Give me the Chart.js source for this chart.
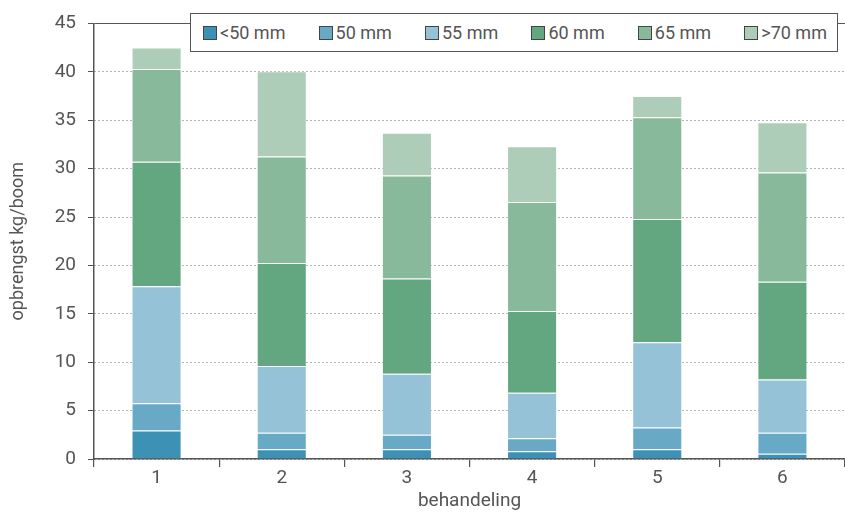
<!DOCTYPE html>
<html>
<head>
<meta charset="utf-8">
<script src="https://cdn.jsdelivr.net/npm/chart.js@4.4.0/dist/chart.umd.min.js"></script>
<style>
  body { margin: 0; background: #fff; }
  #wrap { position: relative; width: 845px; height: 513px; }
  #legend {
    position: absolute; left: 190px; top: 13px; width: 648px; height: 39px;
    box-sizing: border-box; border: 1.5px solid #555; background: #fff;
    display: flex; align-items: center; justify-content: space-between;
    font: 18px Roboto, sans-serif; color: #555; padding: 0 10px 0 12px;
  }
  .item { display: flex; align-items: center; }
  .sw { width: 14px; height: 14px; box-sizing: border-box; border: 1px solid #444; margin-right: 3px; }
</style>
</head>
<body>
<div id="wrap">
  <canvas id="chart" width="845" height="513"></canvas>
  <div id="legend"></div>
</div>
<script>
const categories = ['1', '2', '3', '4', '5', '6'];
const series_labels = ['<50 mm', '50 mm', '55 mm', '60 mm', '65 mm', '>70 mm'];
const series_colors = ['#3c91b5', '#68a9c6', '#96c2d8', '#63a781', '#88b99a', '#adcdb9'];

// kg per tree
const lt50 = [2.95, 1.0, 1.0, 0.8, 1.0, 0.55];
const mm50 = [2.8, 1.7, 1.5, 1.35, 2.25, 2.15];
const mm55 = [12.1, 6.9, 6.3, 4.7, 8.8, 5.5];
const mm60 = [12.85, 10.65, 9.85, 8.45, 12.75, 10.1];
const mm65 = [9.6, 11.0, 10.65, 11.25, 10.5, 11.3];
const gt70 = [2.2, 8.8, 4.4, 5.75, 2.2, 5.2];
const series_values = [lt50, mm50, mm55, mm60, mm65, gt70];

const y_ticks = [0, 5, 10, 15, 20, 25, 30, 35, 40, 45];

const text_color = '#555';
const axis_color = '#555';

let datasets = series_labels.map((l, i) => ({
  label: l,
  data: series_values[i],
  backgroundColor: series_colors[i],
  borderColor: 'rgba(255,255,255,0.2)',
  borderWidth: 1,
  borderSkipped: 'start',
  barPercentage: 0.4,
  categoryPercentage: 1.0
}));

new Chart(document.getElementById('chart'), {
  type: 'bar',
  data: { labels: categories, datasets: datasets },
  options: {
    responsive: false,
    animation: false,
    layout: { padding: { top: 21, right: 0, bottom: 0, left: 0 } },
    plugins: { legend: { display: false }, tooltip: { enabled: false } },
    scales: {
      x: {
        stacked: true,
        afterFit: s => { s.height = 54; },
        grid: { drawOnChartArea: false, drawTicks: true, tickLength: 8, color: axis_color, lineWidth: 1.2 },
        border: { color: axis_color, width: 1.5 },
        ticks: { color: text_color, font: { family: 'Roboto', size: 19 }, padding: 0 },
        title: { display: true, text: 'behandeling', color: text_color, font: { family: 'Roboto', size: 19 }, padding: { top: 0, bottom: 0 } }
      },
      y: {
        stacked: true,
        min: 0, max: 45,
        afterFit: s => { s.width = 94; },
        afterBuildTicks: s => { s.ticks = y_ticks.map(v => ({ value: v })); },
        grid: {
          color: ctx => ctx.tick && ctx.tick.value === 45 ? axis_color : '#666',
          lineWidth: 1,
          tickLength: 6,
          tickColor: axis_color,
          tickBorderDash: []
        },
        border: {
          color: axis_color, width: 1.5,
          dash: ctx => ctx.tick && ctx.tick.value === 45 ? [] : [1, 3]
        },
        ticks: { color: text_color, font: { family: 'Roboto', size: 19 }, padding: 12 },
        title: { display: true, text: 'opbrengst kg/boom', color: text_color, font: { family: 'Roboto', size: 18 }, padding: { top: 8, bottom: 0 } }
      }
    }
  }
});

// legend box drawn over the plot, like the original
let legend_el = document.getElementById('legend');
series_labels.forEach((l, i) => {
  let item = document.createElement('div');
  item.className = 'item';
  item.innerHTML = `<span class="sw" style="background:${series_colors[i]}"></span><span>${l.replace('<', '&lt;').replace('>', '&gt;')}</span>`;
  legend_el.appendChild(item);
});
</script>
</body>
</html>
